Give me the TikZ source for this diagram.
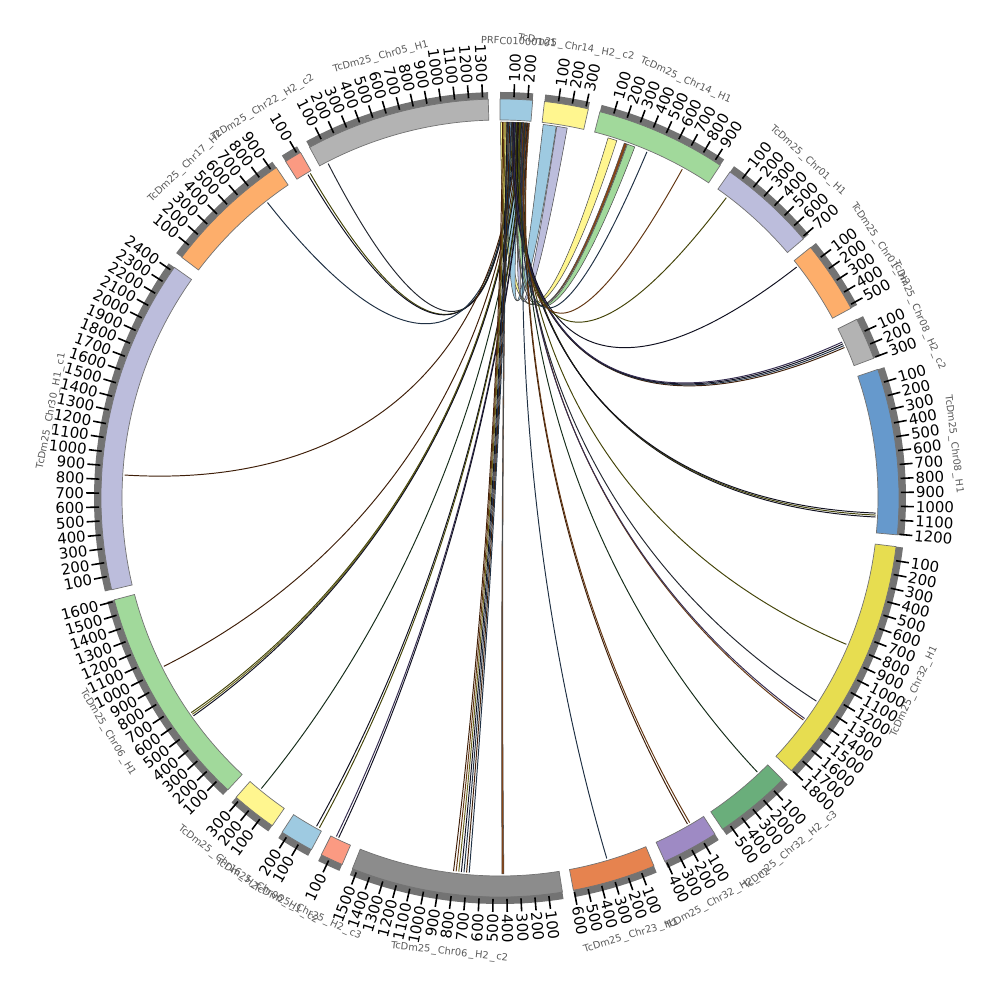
\documentclass[tikz,border=0pt]{standalone}
\usepackage{fontspec}
\setmainfont{DejaVu Sans}

% sector colours
\definecolor{cPRFC}{RGB}{158,202,225}
\definecolor{cYelLight}{RGB}{255,246,143}
\definecolor{cGreenL}{RGB}{161,217,155}
\definecolor{cLav}{RGB}{188,189,220}
\definecolor{cOrL}{RGB}{253,174,107}
\definecolor{cGrayL}{RGB}{179,179,179}
\definecolor{cBlue}{RGB}{102,153,204}
\definecolor{cYelD}{RGB}{231,221,80}
\definecolor{cGreenD}{RGB}{106,174,123}
\definecolor{cPurp}{RGB}{158,138,196}
\definecolor{cOrD}{RGB}{230,131,79}
\definecolor{cGrayD}{RGB}{140,140,140}
\definecolor{cSalm}{RGB}{251,154,130}
% link colours
\definecolor{lkbrown}{RGB}{139,69,19}
\definecolor{lkolive}{RGB}{150,150,20}
\definecolor{lkyellow}{RGB}{230,220,60}
\definecolor{lksteel}{RGB}{70,110,150}
\definecolor{lkslate}{RGB}{80,90,110}
\definecolor{lkgreen}{RGB}{50,100,60}
\definecolor{lkpurple}{RGB}{120,100,180}
\definecolor{lkorange}{RGB}{220,120,40}
\definecolor{lknavy}{RGB}{35,35,70}

\tikzset{
  band/.style={draw=black!55, line width=0.4pt},
  tickband/.style={fill=black!55},
  tickmark/.style={line width=0.9pt},
  ticklab/.style={font=\fontsize{8.5}{9}\selectfont, inner sep=1pt},
  seclab/.style={font=\fontsize{5.6}{6}\selectfont, text=black!65, inner sep=0pt},
  lnk/.style={draw=#1!45!black, line width=0.55pt},
  rib/.style={fill=#1, draw=black!70, line width=0.3pt},
}

\newcommand{\usc}{\kern0.8pt\_\kern0.8pt}
% thin link between two angles of the inner ring
\newcommand{\chordline}[3]{\draw[lnk=#1] (#2:376) .. controls (#2:139) and (#3:139) .. (#3:376);}
% wide link from [#2,#3] to [#4,#5]
\newcommand{\ribbonlink}[5]{\filldraw[rib=#1] (#2:376) .. controls (#2:139) and (#5:139) .. (#5:376) arc[start angle=#5, end angle=#4, radius=376] .. controls (#4:139) and (#3:139) .. (#3:376) arc[start angle=#3, end angle=#2, radius=376] -- cycle;}

\begin{document}
\begin{tikzpicture}[x=0.02cm, y=0.02cm]
    \useasboundingbox (-500,-502) rectangle (500,498);

    % Wide links at the top
    \ribbonlink{cYelLight}{89.9}{88.7}{73.3}{71.9}
    \ribbonlink{cPRFC}{88.6}{86.7}{83.4}{81.4}
    \ribbonlink{cLav}{86.6}{85.5}{81.3}{79.7}
    \ribbonlink{lkbrown}{87.4}{87.2}{70.7}{70.3}
    \ribbonlink{cGreenL}{87.1}{86.4}{70.2}{69.0}
    \ribbonlink{lkbrown}{89.0}{88.8}{270.6}{270.3}

    % Thin links: source / target / colour
    \foreach \a/\b/\c in {
        88.2/117.2/lkslate, 88.0/120.3/lkolive, 87.8/120.7/lknavy,
        87.6/128.2/lksteel, 87.3/176.5/lkbrown, 87.1/206.6/lkbrown,
        86.9/214.8/lkolive, 86.8/215.1/lkyellow, 86.7/215.4/lknavy,
        86.5/230.6/lkgreen, 86.3/240.8/lknavy, 86.2/241.3/lkolive,
        86.0/244.2/lkpurple, 85.9/244.6/lknavy,
        89.6/262.9/lkbrown, 89.4/263.3/lkorange, 89.2/263.7/lkyellow,
        88.9/264.1/lknavy, 88.7/264.5/lksteel, 88.5/264.9/lkbrown,
        88.3/265.3/lksteel,
        85.8/286.5/lksteel, 85.7/299.9/lkbrown, 85.6/300.3/lkorange,
        86.1/313.2/lkgreen, 86.4/323.8/lkorange, 86.6/324.1/lkpurple,
        86.8/327.3/lkslate, 87.0/337.1/lkolive,
        87.4/357.1/lknavy, 87.5/357.4/lkolive, 87.7/357.7/lknavy,
        88.1/23.6/lkbrown, 88.0/23.9/lksteel, 87.9/24.2/lknavy,
        87.8/24.5/lkpurple,
        87.2/37.9/lknavy, 86.9/53.0/lkolive,
        86.2/67.0/lksteel, 86.0/61.0/lkorange}
    {
        \chordline{\c}{\a}{\b}
    }

    % Sectors: start angle / length / colour / name
    \foreach \secA/\secL/\secC/\secN [count=\i] in {
        90.0/235/cPRFC/PRFC01000101,
        83.6/320/cYelLight/TcDm25\usc Chr14\usc H2\usc c2,
        75.5/950/cGreenL/TcDm25\usc Chr14\usc H1,
        54.8/715/cLav/TcDm25\usc Chr01\usc H1,
        38.9/525/cOrL/TcDm25\usc Chr01\usc H2,
        26.6/305/cGrayL/TcDm25\usc Chr08\usc H2\usc c2,
        18.8/1205/cBlue/TcDm25\usc Chr08\usc H1,
        -7.0/1805/cYelD/TcDm25\usc Chr32\usc H1,
        -44.9/560/cGreenD/TcDm25\usc Chr32\usc H2\usc c3,
        -57.4/410/cPurp/TcDm25\usc Chr32\usc H2\usc c2,
        -67.3/605/cOrD/TcDm25\usc Chr23\usc H1,
        -81.0/1535/cGrayD/TcDm25\usc Chr06\usc H2\usc c2,
        -113.3/165/cSalm/TcDm25\usc Chr25\usc H2\usc c3,
        -118.2/245/cPRFC/TcDm25\usc Chr06\usc H1\usc c2,
        -124.8/330/cYelLight/TcDm25\usc Chr16\usc H2,
        -133.0/1610/cGreenL/TcDm25\usc Chr06\usc H1,
        -166.7/2430/cLav/TcDm25\usc Chr30\usc H1\usc c1,
        -217.1/940/cOrL/TcDm25\usc Chr17\usc H2,
        -237.5/125/cSalm/TcDm25\usc Chr22\usc H2\usc c2,
        -241.5/1340/cGrayL/TcDm25\usc Chr05\usc H1}
    {
        \pgfmathsetmacro{\secE}{\secA-\secL*0.02}
        \pgfmathsetmacro{\secM}{\secA-\secL*0.01}
        % grey band under the ticks
        \fill[tickband] (\secA:397) arc[start angle=\secA, end angle=\secE, radius=397]
            -- (\secE:406) arc[start angle=\secE, end angle=\secA, radius=406] -- cycle;
        % coloured sector
        \filldraw[band, fill=\secC] (\secA:378) arc[start angle=\secA, end angle=\secE, radius=378]
            -- (\secE:399) arc[start angle=\secE, end angle=\secA, radius=399] -- cycle;
        % ticks every 100
        \pgfmathtruncatemacro{\secT}{\secL/100}
        \foreach \k in {1,...,\secT}{
            \pgfmathsetmacro{\tA}{\secA-2*\k}
            \draw[tickmark] (\tA:401) -- (\tA:414);
            \pgfmathsetmacro{\tC}{cos(\tA)}
            \ifdim\tC pt>0pt
                \node[ticklab, anchor=west, rotate=\tA] (tl\i-\k) at (\tA:414) {\k00};
            \else
                \node[ticklab, anchor=east, rotate=\tA+180] (tl\i-\k) at (\tA:414) {\k00};
            \fi
        }
        % sector name
        \pgfmathsetmacro{\sS}{sin(\secM)}
        \ifdim\sS pt>0pt
            \node[seclab, rotate=\secM-90] (sec\i) at (\secM:457) {\secN};
        \else
            \node[seclab, rotate=\secM+90] (sec\i) at (\secM:457) {\secN};
        \fi
    }
\end{tikzpicture}
\end{document}
